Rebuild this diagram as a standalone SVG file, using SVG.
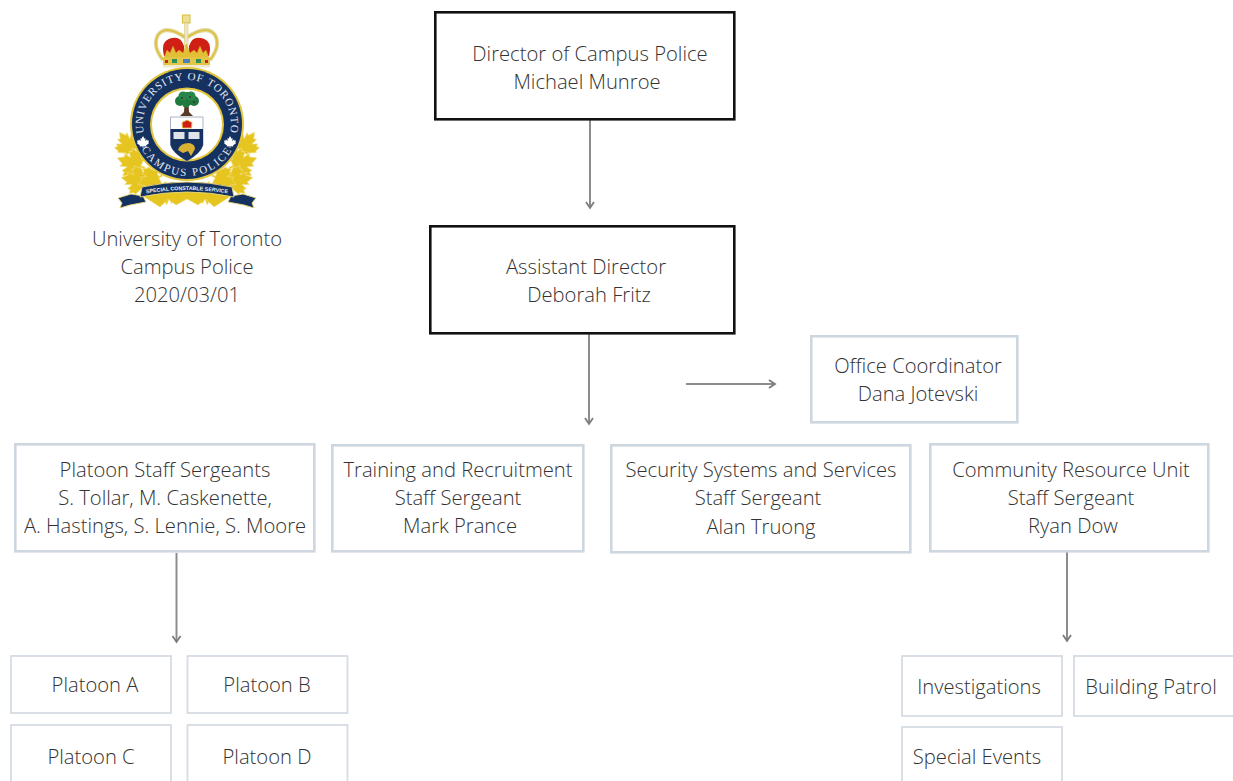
<svg xmlns="http://www.w3.org/2000/svg" width="1233" height="781" viewBox="0 0 1233 781">
<style>
text{font-family:"Open Sans","Liberation Sans",sans-serif;font-weight:300;font-size:20.2px;fill:#333;text-anchor:middle}
.k{fill:#fff;stroke:#111;stroke-width:2.6}
.l{fill:#fff;stroke:#ced6e0;stroke-width:2.6}
.p{fill:#fff;stroke:#d6dce4;stroke-width:1.8}
.c{fill:none;stroke:#8c8c8c;stroke-width:2;marker-end:url(#a)}
.gold{fill:#e6c521;stroke:#f0dc78;stroke-width:.5}
.lt{font-family:"Liberation Serif",serif;font-weight:400;font-size:11px;fill:#e4e8ef;letter-spacing:.9px}
.lb{letter-spacing:1.9px}
.rt{font-family:"Liberation Sans",sans-serif;font-weight:700;font-size:5.300px;fill:#eef1f5}
</style>
<defs>
<marker id="a" markerWidth="12" markerHeight="12" refX="9" refY="5" orient="auto" markerUnits="userSpaceOnUse"><path d="M3 1 L9 5 L3 9" fill="none" stroke="#7c7c7c" stroke-width="1.8"/></marker>
<path id="top" d="M146 140 A44 44 0 1 1 228 140"/>
<path id="bot" d="M135 124 A52 52 0 0 0 239 124"/>
<path id="ribbon" d="M138 195 Q187 185 236 195"/>
<path id="leaf" d="M0 -10 L2.500 -5.500 L4.500 -6.500 L3.500 -1.500 L7 -4 L7.500 -2 L10 -2.500 L9 1 L10 2 L5 6 L5.500 7.500 L.6 7 L.6 10 L-.6 10 L-.6 7 L-5.500 7.500 L-5 6 L-10 2 L-9 1 L-10 -2.500 L-7.500 -2 L-7 -4 L-3.500 -1.500 L-4.500 -6.500 L-2.500 -5.500Z"/>
<g id="leaves">
<use href="#leaf" class="gold" transform="translate(127 143) rotate(-35) scale(1.300)"/>
<use href="#leaf" class="gold" transform="translate(131 163) rotate(-70) scale(1.450)"/>
<use href="#leaf" class="gold" transform="translate(135 180) rotate(-80) scale(1.400)"/>
<use href="#leaf" class="gold" transform="translate(150 180) rotate(-110) scale(1.300)"/>
<use href="#leaf" class="gold" transform="translate(166 194) rotate(-150) scale(1.350)"/>
</g>
</defs>
<rect width="1233" height="781" fill="#fff"/>
<g id="logo">
<use href="#leaves"/>
<use href="#leaves" transform="translate(374 0) scale(-1 1)"/>
<path fill="none" stroke="#e3d9a0" stroke-width="4" d="M163 60 Q152 46 158 35 Q166 24 186 38 Q207 24 215 35 Q221 46 210 60"/>
<path fill="none" stroke="#dcc143" stroke-width="1.800" d="M163 60 Q152 46 158 35 Q166 24 186 38 Q207 24 215 35 Q221 46 210 60"/>
<path fill="#d01f14" d="M164 56 Q160 40 172 38 Q181 36 184 46 L184 56Z M189 56 L189 46 Q192 36 201 38 Q213 40 209 56Z"/>
<rect x="182.500" y="15" width="7.500" height="8" fill="#eedf98" stroke="#d8bd3a"/>
<rect x="184.500" y="23" width="3.500" height="24" fill="#ece6c8" stroke="#d8c464" stroke-width=".5"/>
<path fill="#e2bf35" stroke="#c8a520" stroke-width=".4" d="M164 58 L167 50 L170 53 L173 46 L176 53 L179 50 L183 53 L186.500 44 L190 53 L194 50 L197 53 L200 46 L203 53 L206 50 L209 58Z"/>
<rect x="163" y="57" width="47" height="9" rx="1" fill="#e3c548"/>
<rect x="163" y="65" width="47" height="2.500" fill="#efe9cf"/>
<rect x="183" y="59" width="7" height="4" fill="#4a7fc1"/><rect x="172" y="59" width="5" height="4" fill="#2f8f58"/><rect x="196" y="59" width="5" height="4" fill="#2f8f58"/><rect x="165" y="60" width="3" height="3" fill="#c8281c"/><rect x="205" y="60" width="3" height="3" fill="#c8281c"/>
<circle cx="187" cy="124" r="57" fill="#e2c63e"/>
<circle cx="187" cy="124" r="55" fill="#14315f"/>
<circle cx="187" cy="124.500" r="37" fill="#e2c63e"/>
<circle cx="187" cy="124.500" r="35" fill="#fff"/>
<text class="lt"><textPath href="#top" startOffset="50%">UNIVERSITY OF TORONTO</textPath></text>
<text class="lt lb"><textPath href="#bot" startOffset="50%">CAMPUS POLICE</textPath></text>
<use href="#leaf" fill="#fff" transform="translate(143 142) scale(.6)"/>
<use href="#leaf" fill="#fff" transform="translate(230 142) scale(.6)"/>
<path fill="#5a3a26" d="M184.500 104 L188.500 104 L189 112 L193 116 L180 116 L184 112Z"/>
<circle cx="187" cy="99" r="7" fill="#1f7a3d"/><circle cx="180" cy="101" r="5" fill="#1f7a3d"/><circle cx="194" cy="101" r="5" fill="#1f7a3d"/><circle cx="183" cy="96" r="4.500" fill="#27864a"/><circle cx="191" cy="96" r="4.500" fill="#27864a"/><circle cx="186" cy="104" r="3.500" fill="#1f7a3d"/>
<circle cx="182" cy="98" r="1" fill="#4a2550"/><circle cx="190" cy="97" r="1" fill="#4a2550"/><circle cx="194" cy="102" r="1" fill="#4a2550"/>
<path fill="#fff" stroke="#a9b2c4" stroke-width="1" d="M170.500 117 L203 117 L203 145 Q201 153 187 161 Q172.500 153 170.500 145Z"/>
<path fill="#14315f" d="M170.500 129 L203 129 L203 145 Q201 153 187 161 Q172.500 153 170.500 145Z"/>
<path fill="#d01f14" stroke="#dcc143" stroke-width=".9" d="M182.500 128 L182 122.500 L187 120 L192 122.500 L191.500 128Z"/>
<rect x="173.500" y="132" width="11" height="7" fill="#dfe3ea"/><rect x="188.500" y="132" width="11" height="7" fill="#dfe3ea"/>
<path fill="#d9b234" d="M178 150 Q180 143 189 143 Q195 144 195 149 L191 156 L188 151 L183 153Z"/>
<path class="gold" d="M143 196 L160 207 L168 199 L176 205 L187 199 L198 205 L206 199 L214 207 L231 196 L187 186Z"/>
<path fill="#14315f" stroke="#e8d778" stroke-width=".9" d="M118 198 L131 194 L143 196 L146 202 L130 205 L120 208 L122 203Z M256 198 L243 194 L231 196 L228 202 L244 205 L254 208 L252 203Z"/>
<path fill="#14315f" stroke="#e8d778" stroke-width=".9" d="M142 187 Q187 177 232 187 L234 197 Q187 187 140 197Z"/>
<text class="rt"><textPath href="#ribbon" startOffset="50%">SPECIAL CONSTABLE SERVICE</textPath></text>
</g>
<g id="caption">
<text x="187" y="246">University of Toronto</text>
<text x="187" y="274">Campus Police</text>
<text x="187" y="302">2020/03/01</text>
</g>
<g id="connectors">
<path class="c" d="M590 120 V208"/>
<path class="c" d="M589 334 V424"/>
<path class="c" d="M686 384 H775"/>
<path class="c" d="M176.500 553 V642"/>
<path class="c" d="M1067 552 V641"/>
</g>
<g id="director"><rect class="k" x="435.300" y="12.300" width="299" height="107"/><text x="590" y="61">Director of Campus Police</text><text x="587" y="89">Michael Munroe</text></g>
<g id="assistant"><rect class="k" x="430.300" y="226.300" width="304" height="107"/><text x="586" y="274">Assistant Director</text><text x="589" y="302">Deborah Fritz</text></g>
<g id="office"><rect class="l" x="811.300" y="336.300" width="206" height="86"/><text x="918" y="373">Office Coordinator</text><text x="918" y="401">Dana Jotevski</text></g>
<g id="platoon-staff"><rect class="l" x="15.300" y="444.300" width="299" height="107"/><text x="165" y="477">Platoon Staff Sergeants</text><text x="165" y="505">S. Tollar, M. Caskenette,</text><text x="165" y="533">A. Hastings, S. Lennie, S. Moore</text></g>
<g id="training"><rect class="l" x="332.300" y="445.300" width="251" height="106"/><text x="458" y="477">Training and Recruitment</text><text x="458" y="505">Staff Sergeant</text><text x="460" y="533">Mark Prance</text></g>
<g id="security"><rect class="l" x="611.300" y="445.300" width="299" height="107"/><text x="761" y="477">Security Systems and Services</text><text x="758" y="505">Staff Sergeant</text><text x="761" y="534">Alan Truong</text></g>
<g id="community"><rect class="l" x="930.300" y="444.300" width="278" height="107"/><text x="1071" y="477">Community Resource Unit</text><text x="1071" y="505">Staff Sergeant</text><text x="1073" y="533">Ryan Dow</text></g>
<g id="platoon-a"><rect class="p" x="11" y="656" width="160" height="57"/><text x="95" y="691.500">Platoon A</text></g>
<g id="platoon-b"><rect class="p" x="187.500" y="656" width="160" height="57"/><text x="267" y="691.500">Platoon B</text></g>
<g id="platoon-c"><rect class="p" x="11" y="725" width="160" height="70"/><text x="91" y="764">Platoon C</text></g>
<g id="platoon-d"><rect class="p" x="187.500" y="725" width="160" height="70"/><text x="267" y="764">Platoon D</text></g>
<g id="investigations"><rect class="p" x="902" y="656" width="160" height="60"/><text x="979" y="694">Investigations</text></g>
<g id="building-patrol"><rect class="p" x="1074" y="656" width="170" height="60"/><text x="1151" y="694">Building Patrol</text></g>
<g id="special-events"><rect class="p" x="902" y="727" width="160" height="70"/><text x="977" y="764">Special Events</text></g>
</svg>
